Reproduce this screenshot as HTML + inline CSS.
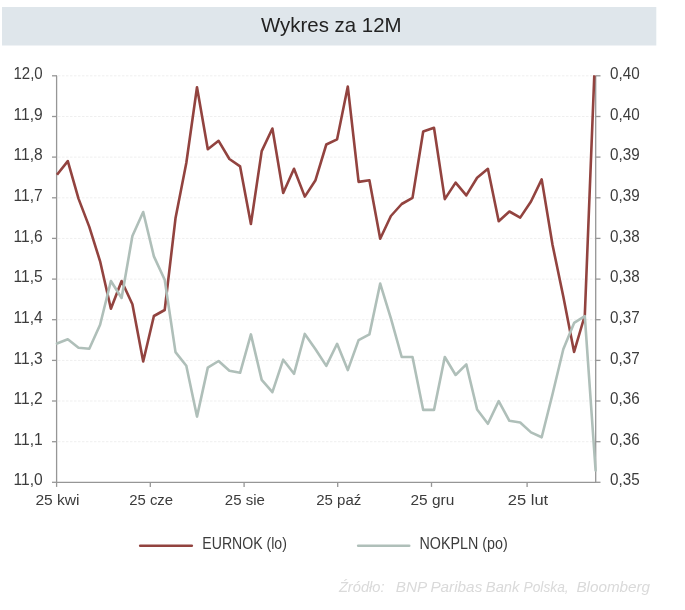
<!DOCTYPE html><html lang="pl"><head><meta charset="utf-8"><title>Wykres za 12M</title>
<style>html,body{margin:0;padding:0;background:#fff}svg{display:block}text{font-family:"Liberation Sans",sans-serif}</style></head><body>
<svg width="685" height="610" viewBox="0 0 685 610">
<rect width="685" height="610" fill="#fff"/>
<rect x="2" y="7" width="654.3" height="38.5" fill="#dfe6eb"/>
<text x="261" y="31.5" font-size="21" fill="#222" textLength="140.5" lengthAdjust="spacingAndGlyphs">Wykres za 12M</text>
<line x1="58" x2="595" y1="75.8" y2="75.8" stroke="#efefef" stroke-width="1" stroke-dasharray="2.5 1.5"/>
<line x1="58" x2="595" y1="116.5" y2="116.5" stroke="#efefef" stroke-width="1" stroke-dasharray="2.5 1.5"/>
<line x1="58" x2="595" y1="157.1" y2="157.1" stroke="#efefef" stroke-width="1" stroke-dasharray="2.5 1.5"/>
<line x1="58" x2="595" y1="197.8" y2="197.8" stroke="#efefef" stroke-width="1" stroke-dasharray="2.5 1.5"/>
<line x1="58" x2="595" y1="238.4" y2="238.4" stroke="#efefef" stroke-width="1" stroke-dasharray="2.5 1.5"/>
<line x1="58" x2="595" y1="279.1" y2="279.1" stroke="#efefef" stroke-width="1" stroke-dasharray="2.5 1.5"/>
<line x1="58" x2="595" y1="319.7" y2="319.7" stroke="#efefef" stroke-width="1" stroke-dasharray="2.5 1.5"/>
<line x1="58" x2="595" y1="360.4" y2="360.4" stroke="#efefef" stroke-width="1" stroke-dasharray="2.5 1.5"/>
<line x1="58" x2="595" y1="401.0" y2="401.0" stroke="#efefef" stroke-width="1" stroke-dasharray="2.5 1.5"/>
<line x1="58" x2="595" y1="441.7" y2="441.7" stroke="#efefef" stroke-width="1" stroke-dasharray="2.5 1.5"/>
<g stroke="#969696" stroke-width="1.3" fill="none">
<line x1="56.6" x2="56.6" y1="75.8" y2="482.3"/>
<line x1="595.7" x2="595.7" y1="75.8" y2="482.3"/>
<line x1="57" x2="596" y1="482.3" y2="482.3"/>
<line x1="52" x2="57" y1="75.8" y2="75.8"/>
<line x1="596" x2="600.5" y1="75.8" y2="75.8"/>
<line x1="52" x2="57" y1="116.5" y2="116.5"/>
<line x1="596" x2="600.5" y1="116.5" y2="116.5"/>
<line x1="52" x2="57" y1="157.1" y2="157.1"/>
<line x1="596" x2="600.5" y1="157.1" y2="157.1"/>
<line x1="52" x2="57" y1="197.8" y2="197.8"/>
<line x1="596" x2="600.5" y1="197.8" y2="197.8"/>
<line x1="52" x2="57" y1="238.4" y2="238.4"/>
<line x1="596" x2="600.5" y1="238.4" y2="238.4"/>
<line x1="52" x2="57" y1="279.1" y2="279.1"/>
<line x1="596" x2="600.5" y1="279.1" y2="279.1"/>
<line x1="52" x2="57" y1="319.7" y2="319.7"/>
<line x1="596" x2="600.5" y1="319.7" y2="319.7"/>
<line x1="52" x2="57" y1="360.4" y2="360.4"/>
<line x1="596" x2="600.5" y1="360.4" y2="360.4"/>
<line x1="52" x2="57" y1="401.0" y2="401.0"/>
<line x1="596" x2="600.5" y1="401.0" y2="401.0"/>
<line x1="52" x2="57" y1="441.7" y2="441.7"/>
<line x1="596" x2="600.5" y1="441.7" y2="441.7"/>
<line x1="52" x2="57" y1="482.3" y2="482.3"/>
<line x1="596" x2="600.5" y1="482.3" y2="482.3"/>
<line x1="56.6" x2="56.6" y1="482.3" y2="486.9"/>
<line x1="150.3" x2="150.3" y1="482.3" y2="486.9"/>
<line x1="244.1" x2="244.1" y1="482.3" y2="486.9"/>
<line x1="337.7" x2="337.7" y1="482.3" y2="486.9"/>
<line x1="431.5" x2="431.5" y1="482.3" y2="486.9"/>
<line x1="527.1" x2="527.1" y1="482.3" y2="486.9"/>
</g>
<polyline fill="none" stroke="#92433f" stroke-width="2.6" stroke-linejoin="round" stroke-linecap="butt" points="57.0,174.8 67.8,161.1 78.5,198.6 89.3,226.9 100.1,261.3 110.9,308.8 121.6,281.0 132.4,304.3 143.2,361.5 153.9,316.0 164.7,310.0 175.5,218.3 186.3,163.0 197.0,87.3 207.8,149.2 218.6,140.8 229.4,159.0 240.1,166.4 250.9,224.0 261.7,151.1 272.4,128.5 283.2,193.0 294.0,168.8 304.8,196.6 315.5,180.2 326.3,144.5 337.1,139.3 347.8,86.6 358.6,181.9 369.4,180.2 380.2,238.8 390.9,216.0 401.7,204.0 412.5,197.9 423.2,131.5 434.0,127.8 444.8,199.1 455.6,182.6 466.3,195.4 477.1,177.8 487.9,168.8 498.7,221.3 509.4,211.5 520.2,217.6 531.0,201.5 541.7,179.4 552.5,244.7 563.3,296.5 574.1,351.9 584.8,315.5 594.3,75.2"/>
<polyline fill="none" stroke="#afbfb9" stroke-width="2.6" stroke-linejoin="round" stroke-linecap="round" points="57.0,343.5 67.8,339.3 78.5,347.7 89.3,348.7 100.1,324.7 110.9,281.0 121.6,298.0 132.4,236.0 143.2,212.0 153.9,256.4 164.7,279.7 175.5,352.1 186.3,365.7 197.0,416.6 207.8,367.6 218.6,361.0 229.4,370.8 240.1,372.8 250.9,334.4 261.7,379.9 272.4,392.2 283.2,359.7 294.0,373.8 304.8,333.9 315.5,349.2 326.3,365.9 337.1,343.8 347.8,370.1 358.6,340.1 369.4,334.4 380.2,283.6 390.9,318.4 401.7,357.0 412.5,357.0 423.2,409.9 434.0,409.9 444.8,357.0 455.6,375.0 466.3,364.4 477.1,409.5 487.9,423.8 498.7,401.1 509.4,420.8 520.2,422.5 531.0,432.4 541.7,437.3 552.5,394.3 563.3,349.2 574.1,322.9 584.8,316.2 595.6,470.5"/>
<g font-size="16" fill="#3c3c3c">
<text x="13.5" y="78.9" textLength="29.2" lengthAdjust="spacingAndGlyphs">12,0</text>
<text x="610.1" y="78.9" textLength="29.6" lengthAdjust="spacingAndGlyphs">0,40</text>
<text x="13.5" y="119.6" textLength="29.2" lengthAdjust="spacingAndGlyphs">11,9</text>
<text x="610.1" y="119.6" textLength="29.6" lengthAdjust="spacingAndGlyphs">0,40</text>
<text x="13.5" y="160.2" textLength="29.2" lengthAdjust="spacingAndGlyphs">11,8</text>
<text x="610.1" y="160.2" textLength="29.6" lengthAdjust="spacingAndGlyphs">0,39</text>
<text x="13.5" y="200.9" textLength="29.2" lengthAdjust="spacingAndGlyphs">11,7</text>
<text x="610.1" y="200.9" textLength="29.6" lengthAdjust="spacingAndGlyphs">0,39</text>
<text x="13.5" y="241.5" textLength="29.2" lengthAdjust="spacingAndGlyphs">11,6</text>
<text x="610.1" y="241.5" textLength="29.6" lengthAdjust="spacingAndGlyphs">0,38</text>
<text x="13.5" y="282.2" textLength="29.2" lengthAdjust="spacingAndGlyphs">11,5</text>
<text x="610.1" y="282.2" textLength="29.6" lengthAdjust="spacingAndGlyphs">0,38</text>
<text x="13.5" y="322.8" textLength="29.2" lengthAdjust="spacingAndGlyphs">11,4</text>
<text x="610.1" y="322.8" textLength="29.6" lengthAdjust="spacingAndGlyphs">0,37</text>
<text x="13.5" y="363.5" textLength="29.2" lengthAdjust="spacingAndGlyphs">11,3</text>
<text x="610.1" y="363.5" textLength="29.6" lengthAdjust="spacingAndGlyphs">0,37</text>
<text x="13.5" y="404.1" textLength="29.2" lengthAdjust="spacingAndGlyphs">11,2</text>
<text x="610.1" y="404.1" textLength="29.6" lengthAdjust="spacingAndGlyphs">0,36</text>
<text x="13.5" y="444.8" textLength="29.2" lengthAdjust="spacingAndGlyphs">11,1</text>
<text x="610.1" y="444.8" textLength="29.6" lengthAdjust="spacingAndGlyphs">0,36</text>
<text x="13.5" y="485.4" textLength="29.2" lengthAdjust="spacingAndGlyphs">11,0</text>
<text x="610.1" y="485.4" textLength="29.6" lengthAdjust="spacingAndGlyphs">0,35</text>
<text x="35.4" y="504.5" font-size="15.5" textLength="44.2" lengthAdjust="spacingAndGlyphs">25 kwi</text>
<text x="129.2" y="504.5" font-size="15.5" textLength="43.9" lengthAdjust="spacingAndGlyphs">25 cze</text>
<text x="224.8" y="504.5" font-size="15.5" textLength="40.1" lengthAdjust="spacingAndGlyphs">25 sie</text>
<text x="316.2" y="504.5" font-size="15.5" textLength="45.1" lengthAdjust="spacingAndGlyphs">25 paź</text>
<text x="410.5" y="504.5" font-size="15.5" textLength="43.8" lengthAdjust="spacingAndGlyphs">25 gru</text>
<text x="507.8" y="504.5" font-size="15.5" textLength="40.4" lengthAdjust="spacingAndGlyphs">25 lut</text>
<text x="202.3" y="549.2" font-size="16" textLength="84.6" lengthAdjust="spacingAndGlyphs">EURNOK (lo)</text>
<text x="419.5" y="549.2" font-size="16" textLength="88.2" lengthAdjust="spacingAndGlyphs">NOKPLN (po)</text>
</g>
<line x1="140.2" x2="191.8" y1="545.8" y2="545.8" stroke="#92433f" stroke-width="2.6" stroke-linecap="round"/>
<line x1="358.2" x2="409.2" y1="545.8" y2="545.8" stroke="#afbfb9" stroke-width="2.6" stroke-linecap="round"/>
<g font-size="14.5" font-style="italic" fill="#dadada">
<text x="338.9" y="592.3" textLength="45.7" lengthAdjust="spacingAndGlyphs">Źródło:</text>
<text x="395.7" y="592.3" textLength="31.5" lengthAdjust="spacingAndGlyphs">BNP</text>
<text x="430.4" y="592.3" textLength="51.9" lengthAdjust="spacingAndGlyphs">Paribas</text>
<text x="485.8" y="592.3" textLength="33.7" lengthAdjust="spacingAndGlyphs">Bank</text>
<text x="523.5" y="592.3" textLength="45.2" lengthAdjust="spacingAndGlyphs">Polska,</text>
<text x="576.4" y="592.3" textLength="73.7" lengthAdjust="spacingAndGlyphs">Bloomberg</text>
</g>
</svg></body></html>
